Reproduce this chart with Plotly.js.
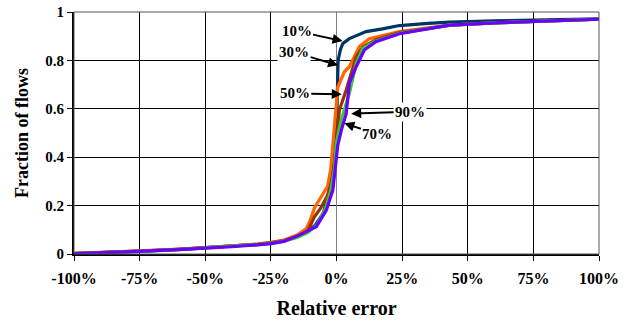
<!DOCTYPE html>
<html>
<head>
<meta charset="utf-8">
<script src="https://cdn.plot.ly/plotly-3.0.1.min.js"></script>
<style>html,body{margin:0;padding:0;background:#fff;}#chart{width:631px;height:321px;}</style>
</head>
<body>
<div id="chart"></div>
<script>
// Relative error (%) and fraction of flows for each curve
const x10 = [-100,-90,-75,-60,-50,-40,-30,-25,-20,-15,-11.5,-8,-5,-3,-1,0,0.3,0.6,1.5,2.4,4.9,8,11.3,17.5,24,35,43,60,80,100];
const y10 = [0.002,0.005,0.012,0.019,0.025,0.032,0.04,0.046,0.056,0.07,0.09,0.12,0.17,0.25,0.38,0.5,0.72,0.8,0.845,0.87,0.89,0.905,0.919,0.93,0.944,0.953,0.958,0.963,0.967,0.972];

const x30 = [-100,-90,-75,-60,-50,-40,-30,-25,-20,-15,-11.5,-10,-8.4,-5.8,-3.4,-2.2,-1.4,-0.4,0.5,3,4.9,8.7,12.5,24,43,60,80,100];
const y30 = [0.003,0.006,0.013,0.02,0.026,0.033,0.042,0.048,0.058,0.078,0.105,0.14,0.19,0.237,0.28,0.35,0.443,0.58,0.69,0.753,0.774,0.857,0.89,0.919,0.946,0.955,0.962,0.97];

const x50 = [-100,-90,-75,-60,-50,-40,-30,-25,-20,-15,-11,-8.4,-6,-3.5,-1.8,-0.5,0.2,1.1,3.7,5.5,7.5,10,15,24,43,60,80,100];
const y50 = [0.002,0.005,0.012,0.019,0.025,0.032,0.04,0.046,0.055,0.072,0.095,0.154,0.19,0.24,0.3,0.4,0.5,0.595,0.678,0.74,0.815,0.855,0.885,0.915,0.945,0.955,0.962,0.97];

const x70 = [-100,-90,-75,-60,-50,-40,-30,-25,-20,-15,-11,-7.5,-4.5,-2.2,-0.8,-0.1,1.8,4.9,7.5,10,15,24,43,60,80,100];
const y70 = [0.002,0.005,0.011,0.018,0.024,0.031,0.039,0.044,0.053,0.068,0.088,0.12,0.18,0.26,0.35,0.457,0.554,0.664,0.788,0.85,0.88,0.912,0.946,0.955,0.962,0.97];

const x90 = [-100,-90,-75,-60,-50,-40,-30,-25,-20,-14,-7.7,-3.9,-1.4,-0.1,0.5,1.8,3.7,4.9,7.5,10.6,15,24,43,60,80,100];
const y90 = [0.002,0.005,0.011,0.018,0.023,0.03,0.038,0.043,0.052,0.079,0.113,0.18,0.264,0.375,0.45,0.51,0.58,0.706,0.774,0.843,0.877,0.91,0.946,0.955,0.962,0.97];

const seriesNames = ['10%','30%','50%','70%','90%'];
const seriesColors = ['#003366','#FF6600','#993300','#33CC33','#6A00FF'];
const xTickVals = [-100,-75,-50,-25,0,25,50,75,100];
const xTickText = ['-100%','-75%','-50%','-25%','0%','25%','50%','75%','100%'];

const xs = [x10,x30,x50,x70,x90];
const ys = [y10,y30,y50,y70,y90];
const traces = xs.map((x,i)=>({
  x: x, y: ys[i], type:'scatter', mode:'lines', name: seriesNames[i],
  line:{color:seriesColors[i], width:3.2}, hoverinfo:'skip'
}));

const F = 'Liberation Serif, Times New Roman, serif';
const annFont = {family:F, size:15, color:'#000', weight:700};
function ann(text, hx, hy, ax, ay){
  return {x:hx, y:hy, xref:'x', yref:'y', text:text, showarrow:true, ax:ax, ay:ay,
    arrowhead:2, arrowsize:1, arrowwidth:2, arrowcolor:'#000', font:annFont, standoff:0, startstandoff:0, bgcolor:'rgba(255,255,255,1)'};
}

const layout = {
  width:631, height:321,
  margin:{l:74, r:32, t:12, b:67},
  paper_bgcolor:'#fff', plot_bgcolor:'#fff',
  showlegend:false,
  font:{family:F, color:'#000'},
  xaxis:{
    range:[-100,100], tickvals:xTickVals, ticktext:xTickText,
    tickfont:{family:F, size:16, color:'#000', weight:700},
    ticklabelstandoff:4,
    showgrid:true, gridcolor:'#000', gridwidth:1,
    zeroline:true, zerolinecolor:'#808080', zerolinewidth:1.5,
    showline:true, linecolor:'#000', linewidth:2,
    ticks:'outside', ticklen:5, tickcolor:'#000', tickwidth:1,
    title:{text:'Relative error', font:{family:F, size:20, color:'#000', weight:700}, standoff:15}
  },
  yaxis:{
    range:[0,1], dtick:0.2, tick0:0,
    tickfont:{family:F, size:15, color:'#000', weight:700},
    showgrid:true, gridcolor:'#000', gridwidth:1,
    zeroline:false,
    showline:true, linecolor:'#000', linewidth:2,
    ticks:'outside', ticklen:5, tickcolor:'#000', tickwidth:1,
    title:{text:'Fraction of flows', font:{family:F, size:18, color:'#000', weight:700}, standoff:12}
  },
  shapes:[{type:'rect', xref:'paper', yref:'paper', x0:0, x1:1, y0:0, y1:1, line:{color:'#555', width:1}, layer:'above'}],
  annotations:[
    ann('10%', 2.3, 0.88, -46, -10),
    ann('30%', 0.6, 0.78, -44, -13),
    ann('50%', 2.0, 0.66, -47, -1),
    ann('90%', 5.6, 0.58, 59, -2),
    ann('70%', 3.0, 0.54, 33, 11)
  ]
};

Plotly.newPlot('chart', traces, layout, {displayModeBar:false, staticPlot:true});
</script>
</body>
</html>
